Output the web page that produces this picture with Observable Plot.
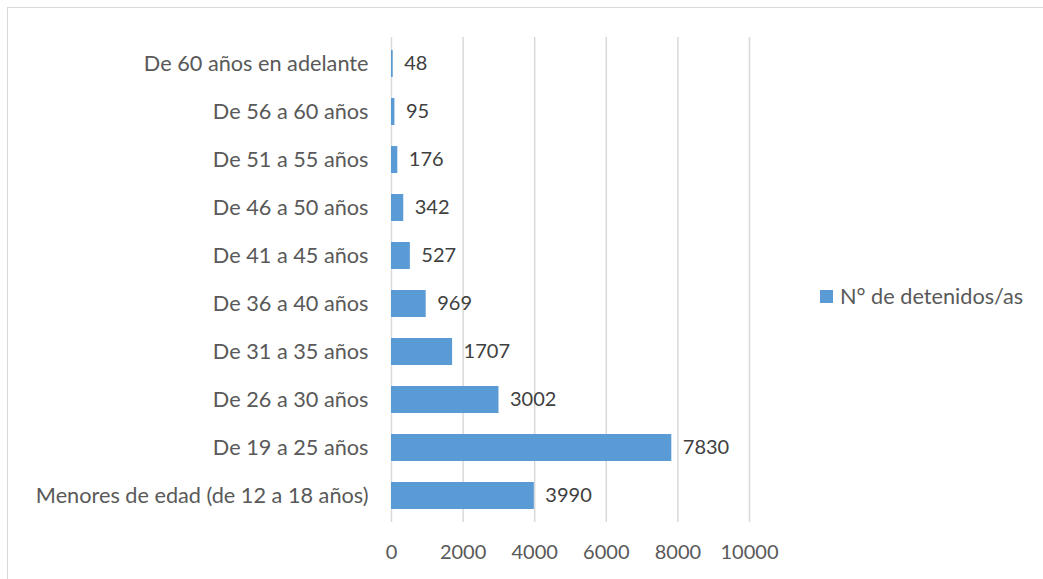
<!DOCTYPE html>
<html>
<head>
<meta charset="utf-8">
<script src="https://cdn.jsdelivr.net/npm/d3@7"></script>
<script src="https://cdn.jsdelivr.net/npm/@observablehq/plot@0.6"></script>
<style>
  html, body { margin: 0; padding: 0; background: #fff; }
  #wrap { position: relative; width: 1043px; height: 579px; overflow: hidden; }
  #frame { position: absolute; left: 7px; top: 7px; width: 1100px; height: 700px; border: 1.5px solid #d9d9d9; box-sizing: border-box; }
  #chart { position: absolute; left: 0; top: 0; }
  #legend { position: absolute; left: 820px; top: 283px; font-family: Lato, "Open Sans", sans-serif; font-size: 21.7px; color: #595959; display: flex; align-items: center; white-space: nowrap; }
  #legend .sw { width: 13px; height: 13px; background: #5b9bd5; margin-right: 7px; }
</style>
</head>
<body>
<div id="wrap">
  <div id="frame"></div>
  <div id="chart"></div>
  <div id="legend"><span class="sw"></span><span id="legtext"></span></div>
</div>
<script>
const categories = [
  "De 60 años en adelante",
  "De 56 a 60 años",
  "De 51 a 55 años",
  "De 46 a 50 años",
  "De 41 a 45 años",
  "De 36 a 40 años",
  "De 31 a 35 años",
  "De 26 a 30 años",
  "De 19 a 25 años",
  "Menores de edad (de 12 a 18 años)"
];
const values = [48, 95, 176, 342, 527, 969, 1707, 3002, 7830, 3990];
const xTicks = [0, 2000, 4000, 6000, 8000, 10000];
const seriesName = "N° de detenidos/as";

const data = categories.map((c, i) => ({category: c, value: values[i]}));
document.getElementById("legtext").textContent = seriesName;

const chart = Plot.plot({
  width: 1043,
  height: 579,
  marginLeft: 391,
  marginRight: 294,
  marginTop: 37,
  marginBottom: 57,
  style: {fontFamily: "Lato, 'Open Sans', sans-serif", fontSize: "20px", color: "#595959", background: "transparent"},
  x: {domain: [0, 10000], ticks: xTicks, tickFormat: d => String(d), label: null},
  y: {domain: categories, paddingInner: 0.44, paddingOuter: 0.22, label: null},
  marks: [
    Plot.ruleX(xTicks, {stroke: "#d9d9d9", strokeWidth: 1.5, strokeOpacity: 1}),
    Plot.barX(data, {x: "value", y: "category", fill: "#5b9bd5"}),
    Plot.text(data, {x: "value", y: "category", text: d => String(d.value), textAnchor: "start", dx: 11, fill: "#404040", fontSize: 20}),
    Plot.axisX({ticks: xTicks, tickSize: 0, tickPadding: 22, tickFormat: d => String(d), fontSize: 20, fill: "#595959"}),
    Plot.axisY({tickSize: 0, tickPadding: 23, fontSize: 21.7, fill: "#595959"})
  ]
});
document.getElementById("chart").appendChild(chart);
</script>
</body>
</html>
